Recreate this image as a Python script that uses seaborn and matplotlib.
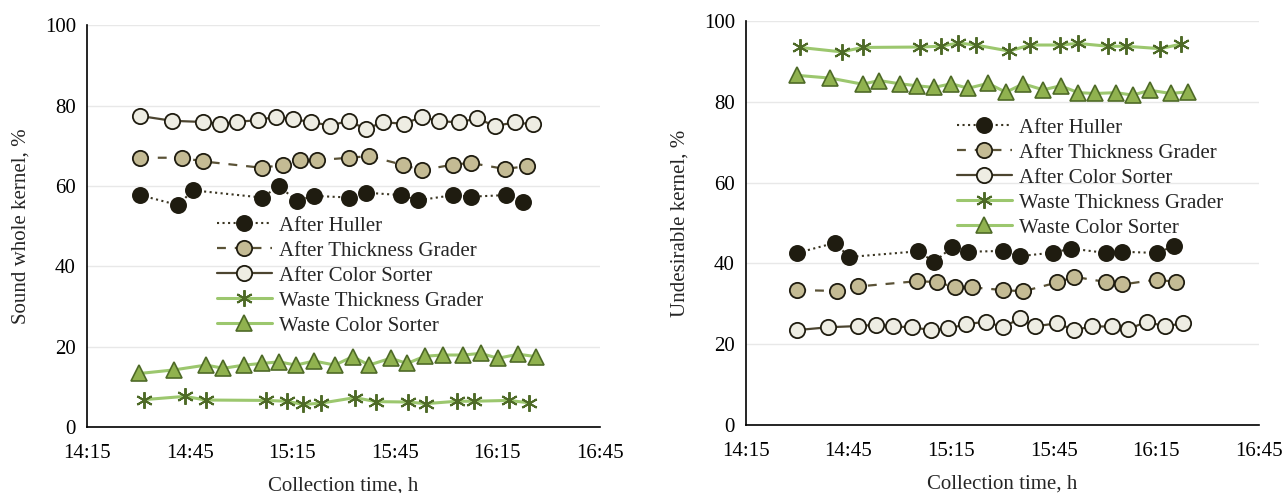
import numpy as np
import pandas as pd
import seaborn as sns
import matplotlib.pyplot as plt
from matplotlib.ticker import FuncFormatter

# x values are minutes after 14:15

# ---- left panel: sound whole kernel, %
l_huller_t = [15.5, 26.7, 30.9, 51.1, 56.2, 61.3, 66.4, 76.7, 81.6, 91.8, 96.9, 107.1, 112.2, 122.4, 127.4]
l_huller = [57.7, 55.2, 58.9, 57.1, 59.9, 56.3, 57.5, 57.1, 58.3, 57.7, 56.4, 57.7, 57.3, 57.7, 56.1]

l_thick_t = [15.5, 27.7, 33.8, 51.1, 57.2, 62.3, 67.3, 76.7, 82.5, 92.5, 97.9, 107.1, 112.2, 122.2, 128.6]
l_thick = [67.0, 67.0, 66.1, 64.5, 65.2, 66.4, 66.4, 67.0, 67.4, 65.2, 63.9, 65.3, 65.7, 64.2, 64.9]

l_color_t = [15.5, 24.8, 33.8, 38.9, 43.9, 50.1, 55.3, 60.3, 65.4, 71.2, 76.5, 81.6, 86.6, 92.7,
             97.9, 103.0, 108.9, 114.0, 119.3, 125.1, 130.5]
l_color = [77.4, 76.2, 75.9, 75.5, 75.9, 76.4, 77.2, 76.6, 75.9, 75.0, 76.2, 74.1, 75.9, 75.4,
           77.2, 76.1, 75.8, 76.8, 74.9, 75.8, 75.3]

l_wthick_t = [16.7, 28.6, 34.8, 52.3, 58.4, 63.2, 68.3, 78.4, 84.5, 93.9, 99.1, 108.3, 113.2, 123.4, 129.3]
l_wthick = [6.8, 7.6, 6.7, 6.6, 6.4, 5.6, 5.9, 7.3, 6.3, 6.2, 5.8, 6.4, 6.4, 6.6, 6.0]

l_wcolor_t = [15.3, 25.5, 34.8, 39.9, 46.0, 51.1, 56.1, 61.1, 66.4, 72.5, 77.7, 82.5, 88.8, 93.6,
              98.8, 104.0, 110.0, 115.1, 120.2, 126.1, 131.3]
l_wcolor = [13.3, 14.2, 15.4, 14.6, 15.4, 15.8, 16.2, 15.4, 16.4, 15.4, 17.5, 15.4, 17.1, 15.8,
            17.6, 17.9, 17.9, 18.3, 17.1, 18.1, 17.5]

# ---- right panel: undesirable kernel, %
r_huller_t = [15.0, 26.0, 30.2, 50.2, 55.1, 60.2, 65.0, 75.1, 80.1, 89.9, 95.1, 105.3, 110.1, 120.1, 125.2]
r_huller = [42.6, 45.1, 41.6, 43.0, 40.4, 44.0, 42.9, 43.1, 41.8, 42.7, 43.7, 42.6, 42.9, 42.6, 44.3]

r_thick_t = [15.0, 26.5, 32.8, 49.9, 55.9, 61.1, 66.0, 75.2, 81.1, 91.0, 96.0, 105.3, 110.1, 120.1, 125.9]
r_thick = [33.4, 33.2, 34.3, 35.6, 35.4, 34.1, 34.1, 33.4, 33.1, 35.3, 36.7, 35.4, 34.8, 36.0, 35.4]

r_color_t = [15.0, 24.1, 32.8, 38.0, 43.1, 48.7, 54.0, 59.1, 64.3, 70.1, 75.2, 80.1, 84.5, 91.0,
             96.0, 101.1, 106.9, 111.8, 117.2, 122.5, 127.9]
r_color = [23.5, 24.2, 24.5, 24.8, 24.4, 24.2, 23.5, 23.9, 24.9, 25.6, 24.2, 26.4, 24.4, 25.2,
           23.5, 24.4, 24.4, 23.7, 25.6, 24.4, 25.2]

r_wthick_t = [15.8, 28.0, 34.1, 50.9, 57.0, 62.1, 67.2, 77.0, 83.0, 91.8, 97.0, 105.9, 111.1, 121.1, 127.1]
r_wthick = [93.5, 92.4, 93.5, 93.6, 93.8, 94.6, 94.1, 92.6, 94.1, 94.1, 94.5, 93.8, 93.8, 93.2, 94.3]

r_wcolor_t = [14.8, 24.7, 34.1, 38.9, 45.0, 50.1, 54.9, 60.1, 65.0, 70.8, 76.0, 81.1, 86.9, 92.0,
              97.2, 102.0, 108.2, 113.1, 118.1, 124.2, 129.2]
r_wcolor = [86.6, 85.9, 84.4, 85.3, 84.5, 84.0, 83.6, 84.5, 83.4, 84.6, 82.4, 84.5, 83.0, 84.0,
            82.3, 82.1, 82.3, 81.7, 82.9, 82.1, 82.5]

labels = ['After Huller', 'After Thickness Grader', 'After Color Sorter',
          'Waste Thickness Grader', 'Waste Color Sorter']

sns.set_style('white')
plt.rcParams['font.family'] = ['Liberation Serif', 'DejaVu Serif']

dark = '#1f1c10'
green_line = '#9cc76e'
green_dark = '#4e6a27'

styles = [
    dict(color='#3a3522', linestyle=':', lw=1.5, marker='o', markersize=11,
         markerfacecolor=dark, markeredgecolor=dark, markeredgewidth=1.2),
    dict(color='#5a5236', linestyle=(0, (4, 4)), lw=1.6, marker='o', markersize=11,
         markerfacecolor='#c4bb94', markeredgecolor=dark, markeredgewidth=1.3),
    dict(color='#4c4530', linestyle='-', lw=1.6, marker='o', markersize=11,
         markerfacecolor='#eeede3', markeredgecolor=dark, markeredgewidth=1.3),
    dict(color=green_line, linestyle='-', lw=2.2, marker=(6, 2, 0), markersize=12,
         markeredgecolor=green_dark, markerfacecolor=green_dark, markeredgewidth=1.4),
    dict(color=green_line, linestyle='-', lw=2.2, marker='^', markersize=11,
         markerfacecolor='#90b24f', markeredgecolor=green_dark, markeredgewidth=1.2),
]

fig = plt.figure(figsize=(12.85, 4.93), dpi=100)
ax1 = fig.add_axes([0.0677, 0.134, 0.3992, 0.815])
ax2 = fig.add_axes([0.5805, 0.138, 0.3992, 0.819])

left_series = [(l_huller_t, l_huller), (l_thick_t, l_thick), (l_color_t, l_color),
               (l_wthick_t, l_wthick), (l_wcolor_t, l_wcolor)]
right_series = [(r_huller_t, r_huller), (r_thick_t, r_thick), (r_color_t, r_color),
                (r_wthick_t, r_wthick), (r_wcolor_t, r_wcolor)]


def fmt_time(v, pos):
    m = int(round(v)) + 14 * 60 + 15
    return '%d:%02d' % (m // 60, m % 60)


def draw_panel(ax, series, ylabel, legend_xy):
    for (t, v), lab, st in zip(series, labels, styles):
        sns.lineplot(x=t, y=v, ax=ax, label=lab, **st)
    ax.set_xlim(0, 150)
    ax.set_ylim(0, 100)
    ax.set_xticks(np.arange(0, 151, 30))
    ax.xaxis.set_major_formatter(FuncFormatter(fmt_time))
    ax.set_yticks(np.arange(0, 101, 20))
    ax.yaxis.grid(True, color='#e8e8e8', lw=1)
    ax.set_axisbelow(True)
    for s in ['top', 'right']:
        ax.spines[s].set_visible(False)
    for s in ['left', 'bottom']:
        ax.spines[s].set_color('black')
        ax.spines[s].set_linewidth(1.2)
    ax.tick_params(direction='in', length=5, width=1, colors='black',
                   labelsize=15, pad=8)
    ax.tick_params(axis='x', pad=12)
    ax.set_xlabel('Collection time, h', fontsize=15, labelpad=10)
    ax.set_ylabel(ylabel, fontsize=15, labelpad=10)
    ax.legend(loc='upper left', bbox_to_anchor=legend_xy, frameon=False, fontsize=15,
              handlelength=2.65, handletextpad=0.35, labelspacing=0.26,
              borderpad=0, borderaxespad=0)


draw_panel(ax1, left_series, 'Sound whole kernel, %', (0.253, 0.525))
draw_panel(ax2, right_series, 'Undesirable kernel, %', (0.411, 0.76))

fig.savefig('out.png', dpi=100)
